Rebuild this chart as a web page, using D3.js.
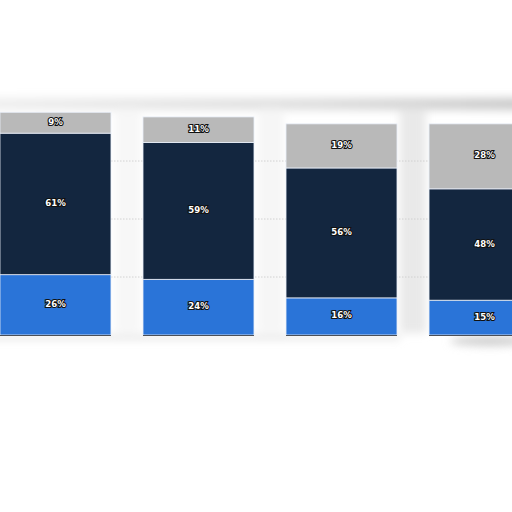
<!DOCTYPE html>
<html lang="en">
<head>
<meta charset="UTF-8">
<title>Stacked share chart</title>
<script src="https://d3js.org/d3.v7.min.js"></script>
<style>
    body { margin: 0; background: #fff; }
    svg { display: block; }
    .lbl {
        font-family: "DejaVu Sans Condensed", "DejaVu Sans", sans-serif;
        font-weight: bold;
        font-size: 9.5px;
        fill: #fff;
        stroke: #111;
        stroke-width: 2.2px;
        paint-order: stroke;
        text-anchor: middle;
    }
</style>
</head>
<body>
<svg width="512" height="512"></svg>
<script>
    // values (percent)
    const groups = ["G1", "G2", "G3", "G4"];
    const bottomShare = [26, 24, 16, 15];
    const middleShare = [61, 59, 56, 48];
    const topShare = [9, 11, 19, 28];
    const seriesKeys = ["bottom", "middle", "top"];
    const seriesColors = ["#2a74d8", "#13263f", "#b9b9b9"];
    const gridTicks = [25, 50, 75];

    const svg = d3.select("svg");

    const x = d3.scaleBand().domain(groups).range([0, 540])
        .paddingInner(0.224).paddingOuter(0);
    const y = d3.scaleLinear().domain([0, 100]).range([335, 103]);
    const color = d3.scaleOrdinal().domain(seriesKeys).range(seriesColors);

    const rows = groups.map((g, i) => ({
        group: g, bottom: bottomShare[i], middle: middleShare[i], top: topShare[i]
    }));
    const stacked = d3.stack().keys(seriesKeys)(rows);

    const defs = svg.append("defs");
    defs.append("filter").attr("id", "blur").attr("x", "-20%").attr("y", "-50%")
        .attr("width", "140%").attr("height", "200%")
        .append("feGaussianBlur").attr("stdDeviation", 4);
    const grad = defs.append("linearGradient").attr("id", "topShade");
    grad.append("stop").attr("offset", "0%").attr("stop-color", "#efefef");
    grad.append("stop").attr("offset", "60%").attr("stop-color", "#dedede");
    grad.append("stop").attr("offset", "100%").attr("stop-color", "#c8c8c8");

    // smudgy shadow of the original screenshot
    const shade = svg.append("g").attr("filter", "url(#blur)");
    shade.append("rect").attr("x", -20).attr("y", 98).attr("width", 560).attr("height", 12)
        .attr("fill", "url(#topShade)");
    shade.append("rect").attr("x", 400).attr("y", 108).attr("width", 26).attr("height", 225)
        .attr("fill", "#e9e9e9");
    shade.append("rect").attr("x", 258).attr("y", 108).attr("width", 26).attr("height", 225)
        .attr("fill", "#f6f6f6");
    shade.append("rect").attr("x", 115).attr("y", 108).attr("width", 26).attr("height", 225)
        .attr("fill", "#f7f7f7");
    shade.append("rect").attr("x", -10).attr("y", 336).attr("width", 410).attr("height", 3)
        .attr("fill", "#d4d4d4");
    shade.append("ellipse").attr("cx", 490).attr("cy", 341).attr("rx", 40).attr("ry", 5)
        .attr("fill", "#cfcfcf");

    // gridlines
    svg.append("g").selectAll("line").data(gridTicks).join("line")
        .attr("x1", 0).attr("x2", 512)
        .attr("y1", d => y(d)).attr("y2", d => y(d))
        .attr("stroke", "#c9c9c9").attr("stroke-width", 0.8)
        .attr("stroke-dasharray", "1.5,1.5");

    // bars
    const layers = svg.append("g").selectAll("g").data(stacked).join("g")
        .attr("fill", d => color(d.key));
    layers.selectAll("rect").data(d => d).join("rect")
        .attr("x", d => x(d.data.group))
        .attr("width", x.bandwidth())
        .attr("y", d => y(d[1]))
        .attr("height", d => y(d[0]) - y(d[1]))
        .attr("stroke", "#e8eef8").attr("stroke-width", 0.8);

    // baseline under bars
    svg.append("g").selectAll("line").data(groups).join("line")
        .attr("x1", d => x(d)).attr("x2", d => x(d) + x.bandwidth())
        .attr("y1", y(0) + 0.5).attr("y2", y(0) + 0.5)
        .attr("stroke", "#4a4f58").attr("stroke-width", 1);

    // value labels
    const labels = svg.append("g");
    stacked.forEach(layer => {
        labels.selectAll(null).data(layer).join("text")
            .attr("class", "lbl")
            .attr("x", d => x(d.data.group) + x.bandwidth() / 2)
            .attr("y", d => (y(d[0]) + y(d[1])) / 2 + 2)
            .text(d => (d[1] - d[0]) + "%");
    });
</script>
</body>
</html>
